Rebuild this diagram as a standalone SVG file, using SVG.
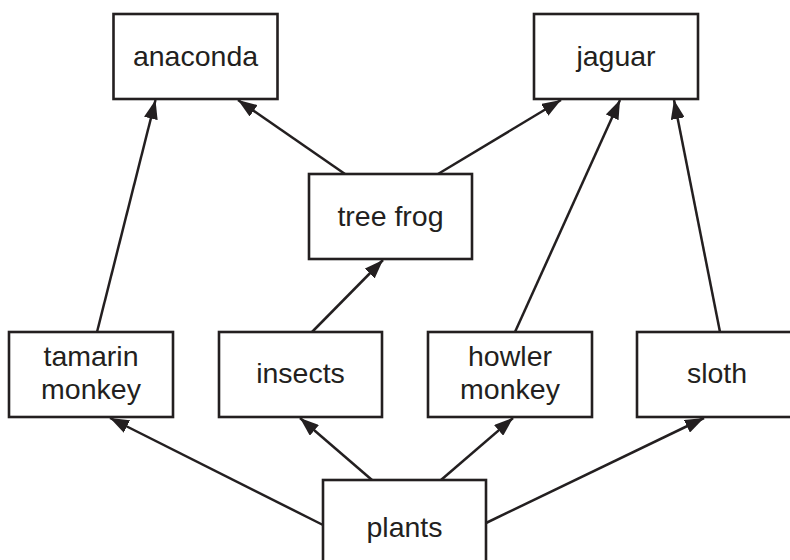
<svg xmlns="http://www.w3.org/2000/svg" width="790" height="560" viewBox="0 0 790 560">
<style>
.box{fill:#fff;stroke:#231f20;stroke-width:2.6}
.lbl{font-family:"Liberation Sans",Arial,sans-serif;font-size:28.5px;fill:#231f20;text-anchor:middle}
.edge{stroke:#231f20;stroke-width:2.5;fill:none;marker-end:url(#ah)}
</style>
<defs>
<marker id="ah" markerUnits="userSpaceOnUse" markerWidth="20" markerHeight="14" refX="19" refY="7" orient="auto">
<path d="M0,0 L19,7 L0,14 z" fill="#231f20"/>
</marker>
</defs>
<rect width="790" height="560" fill="#fff"/>
<g id="connectors">
<line class="edge" x1="97" y1="332" x2="155.5" y2="100"/>
<line class="edge" x1="345" y1="174" x2="238" y2="100"/>
<line class="edge" x1="438" y1="174" x2="561" y2="100"/>
<line class="edge" x1="515" y1="332" x2="620" y2="100"/>
<line class="edge" x1="720" y1="332" x2="674" y2="100"/>
<line class="edge" x1="312" y1="332" x2="383" y2="260"/>
<line class="edge" x1="323" y1="525" x2="110" y2="418"/>
<line class="edge" x1="372" y1="480" x2="300" y2="418"/>
<line class="edge" x1="441" y1="480" x2="513" y2="418"/>
<line class="edge" x1="486" y1="523" x2="704" y2="418"/>
</g>
<g id="anaconda"><rect class="box" x="113.5" y="14" width="164" height="85"/><text class="lbl" x="195.5" y="66">anaconda</text></g>
<g id="jaguar"><rect class="box" x="534" y="14" width="164" height="85"/><text class="lbl" x="616" y="66">jaguar</text></g>
<g id="treefrog"><rect class="box" x="309" y="174" width="163" height="85"/><text class="lbl" x="390.5" y="226">tree frog</text></g>
<g id="tamarin"><rect class="box" x="9" y="332" width="164" height="85"/><text class="lbl" x="91" y="366">tamarin</text><text class="lbl" x="91" y="399">monkey</text></g>
<g id="insects"><rect class="box" x="219" y="332" width="163" height="85"/><text class="lbl" x="300.5" y="383">insects</text></g>
<g id="howler"><rect class="box" x="428" y="332" width="164" height="85"/><text class="lbl" x="510" y="366">howler</text><text class="lbl" x="510" y="399">monkey</text></g>
<g id="sloth"><rect class="box" x="637" y="332" width="164" height="85"/><text class="lbl" x="717" y="383">sloth</text></g>
<g id="plants"><rect class="box" x="323" y="480" width="163" height="86"/><text class="lbl" x="404.5" y="537">plants</text></g>
</svg>
